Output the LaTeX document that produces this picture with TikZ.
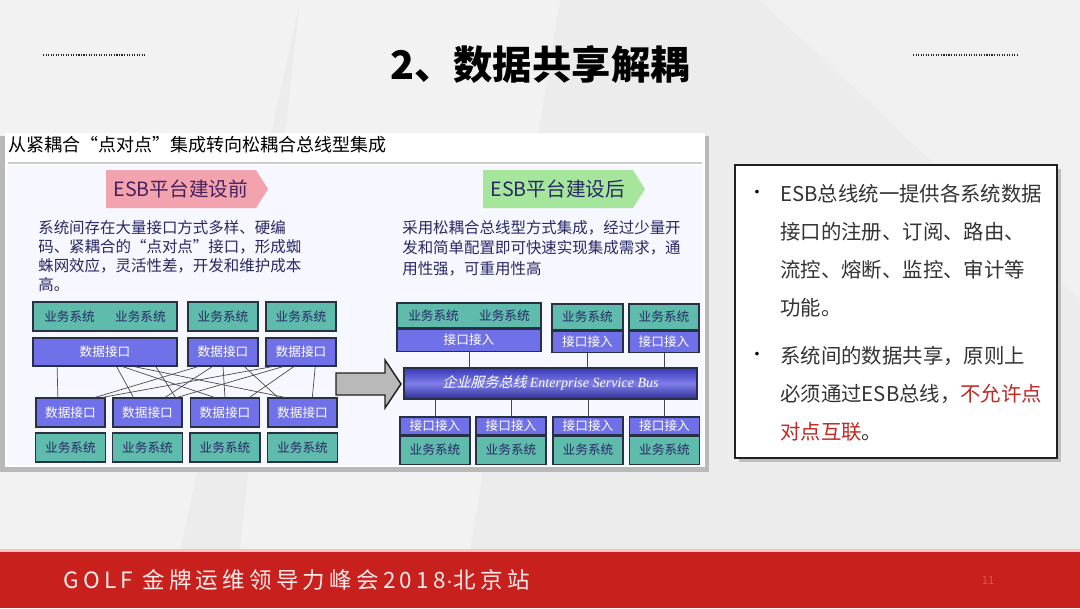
\documentclass[tikz,border=0pt]{standalone}
\usepackage{fontspec}
\usepackage{tikz}
\usetikzlibrary{calc}
\usetikzlibrary{positioning}
\usetikzlibrary{shapes.symbols}
\setmainfont{Noto Sans CJK SC}
\newfontfamily\cjk{Noto Sans CJK SC}
\newfontfamily\cjkslant[FakeSlant=0.25]{Noto Sans CJK SC}
\newfontfamily\footfont[LetterSpace=19]{Noto Sans CJK SC}
\newfontfamily\footdot{Liberation Sans}
\newfontfamily\busfont{Liberation Serif}
\newcommand{\pxl}{0.025cm}
\definecolor{bggray}{RGB}{236,236,236}
\definecolor{systeal}{RGB}{95,188,172}
\definecolor{ifblue}{RGB}{112,112,232}
\definecolor{busblue}{RGB}{56,56,184}
\definecolor{boxline}{RGB}{40,48,70}
\definecolor{navytext}{RGB}{40,40,100}
\definecolor{tagpink}{RGB}{243,163,173}
\definecolor{taggreen}{RGB}{166,230,156}
\definecolor{footred}{RGB}{200,32,28}
\definecolor{notered}{RGB}{192,40,36}
\tikzset{
	sysbox/.style={draw=boxline, fill=systeal, line width=0.8pt, inner sep=0pt,
		font=\cjk\fontsize{9}{11}\selectfont, text=navytext},
	ifbox/.style={draw=boxline, fill=ifblue, line width=0.8pt, inner sep=0pt,
		font=\cjk\fontsize{9}{11}\selectfont, text=white},
	meshline/.style={gray!60!black, line width=0.5pt},
	linkline/.style={gray!55!black, line width=0.7pt},
	tag/.style={signal, signal to=east, signal pointer angle=115, inner sep=0pt,
		minimum width=162*\pxl, minimum height=38*\pxl, font=\cjk\fontsize{14}{16}\selectfont},
	desc/.style={anchor=north west, align=left, inner sep=0pt, text=navytext},
	note/.style={anchor=north west, align=left, inner sep=0pt, text=black!80,
		font=\cjk\fontsize{14.5}{27}\selectfont},
}
\begin{document}
\begin{tikzpicture}[x=0.025cm,y=-0.025cm]
	\useasboundingbox (0,0) rectangle (1080,608);
	
	% background
	\fill[bggray] (0,0) rectangle (1080,608);
	\fill[white,opacity=0.35] (0,0) -- (300,0) -- (180,550) -- (0,550) -- cycle;
	\fill[white,opacity=0.35] (300,0) -- (560,0) -- (470,550) -- (240,550) -- cycle;
	\fill[white,opacity=0.25] (760,0) -- (1080,0) -- (1080,300) -- cycle;
	
	% title
	\node[font=\cjk\bfseries\fontsize{28}{32}\selectfont] (title) at (540,64) {2、数据共享解耦};
	\draw[densely dotted, gray!30!black, line width=0.8pt] (43,55) -- (145,55);
	\draw[densely dotted, gray!30!black, line width=0.8pt] (913,55) -- (1017,55);
	
	% left picture panel
	\fill[gray!55] (0,136) rectangle (709,472);
	\fill[white] (5,133) rectangle (705,467);
	\fill[blue!3] (7,165) rectangle (703,465);
	\draw[gray!40, line width=1.5pt] (8,163) -- (702,163);
	\node[anchor=west, inner sep=0pt, font=\cjk\fontsize{12.8}{14}\selectfont] (head) at (8,145) {从紧耦合“点对点”集成转向松耦合总线型集成};
	
	\node[tag, fill=tagpink, text=navytext!80!purple] (tagpre) at (181,189) {ESB平台建设前};
	\node[tag, fill=taggreen, text=navytext] (tagpost) at (558,189) {ESB平台建设后};
	
	\node[desc, font=\cjk\fontsize{11}{13.5}\selectfont] (descpre) at (38,220)
	{系统间存在大量接口方式多样、硬编\\码、紧耦合的“点对点”接口，形成蜘\\蛛网效应，灵活性差，开发和维护成本\\高。};
	\node[desc, font=\cjk\fontsize{11}{14.5}\selectfont] (descpost) at (402,220)
	{采用松耦合总线型方式集成，经过少量开\\发和简单配置即可快速实现集成需求，通\\用性强，可重用性高};
	
	% before: point to point
	\node[sysbox, minimum width=144*\pxl, minimum height=29*\pxl] (L1s) at (105,316.5) {业务系统\hspace{1.6em}业务系统};
	\node[sysbox, minimum width=70*\pxl, minimum height=29*\pxl] (L2s) at (223,316.5) {业务系统};
	\node[sysbox, minimum width=70*\pxl, minimum height=29*\pxl] (L3s) at (301,316.5) {业务系统};
	\node[ifbox, minimum width=144*\pxl, minimum height=28*\pxl] (L1i) at (105,352) {数据接口};
	\node[ifbox, minimum width=70*\pxl, minimum height=28*\pxl] (L2i) at (223,352) {数据接口};
	\node[ifbox, minimum width=70*\pxl, minimum height=28*\pxl] (L3i) at (301,352) {数据接口};
	
	\foreach \n/\x in {1/70.5,2/147.5,3/225,4/302.5}{
		\node[ifbox, minimum width=69*\pxl, minimum height=29*\pxl] (B\n i) at (\x,412.5) {数据接口};
		\node[sysbox, minimum width=70*\pxl, minimum height=29*\pxl] (B\n s) at (\x,447.5) {业务系统};
	}
	
	\foreach \a/\fa/\b/\fb in {L1i/.17/B1i/.32, L1i/.58/B2i/.3, L1i/.62/B3i/.35, L1i/.7/B4i/.25,
		L1i/.85/B2i/.9, L2i/.15/B1i/.85, L2i/.35/B2i/.75, L2i/.5/B3i/.5, L2i/.8/B4i/.15,
		L3i/.1/B1i/.95, L3i/.25/B2i/.92, L3i/.4/B3i/.85, L3i/.7/B4i/.64}{
		\draw[meshline] ($(\a.south west)!\fa!(\a.south east)$) -- ($(\b.north west)!\fb!(\b.north east)$);
	}
	
	% arrow
	\draw[fill=gray!55, draw=gray!25!black, line width=1pt]
	(336,373) -- (385,373) -- (385,360) -- (401,384) -- (385,408) -- (385,395) -- (336,395) -- cycle;
	
	% after: bus
	\node[sysbox, minimum width=144*\pxl, minimum height=25*\pxl] (RAs) at (469,315.5) {业务系统\hspace{1.6em}业务系统};
	\node[ifbox, minimum width=144*\pxl, minimum height=22*\pxl, below=0pt of RAs] (RAi) {接口接入};
	\node[sysbox, minimum width=71*\pxl, minimum height=26*\pxl] (RBs) at (587.5,317) {业务系统};
	\node[ifbox, minimum width=71*\pxl, minimum height=21*\pxl, below=0pt of RBs] (RBi) {接口接入};
	\node[sysbox, minimum width=70*\pxl, minimum height=26*\pxl] (RCs) at (664,317) {业务系统};
	\node[ifbox, minimum width=70*\pxl, minimum height=21*\pxl, below=0pt of RCs] (RCi) {接口接入};
	
	\node[draw=boxline, line width=1pt, top color=busblue, bottom color=busblue!80!black, middle color=ifblue!90!white,
	minimum width=293*\pxl, minimum height=31*\pxl, text=white, font=\fontsize{10}{12}\selectfont] (bus) at (550.5,383.5)
	{{\cjkslant 企业服务总线} {\busfont\itshape Enterprise Service Bus}};
	
	\foreach \n/\x in {1/435,2/511,3/588,4/664.5}{
		\node[ifbox, minimum width=70*\pxl, minimum height=18*\pxl] (R\n i) at (\x,426) {接口接入};
		\node[sysbox, minimum width=70*\pxl, minimum height=28*\pxl, below=0pt of R\n i] (R\n s) {业务系统};
		\draw[linkline] (bus.south -| R\n i) -- (R\n i.north);
	}
	\foreach \t in {RAi,RBi,RCi}{
		\draw[linkline] (\t.south) -- (\t.south |- bus.north);
	}
	
	% notes box
	\fill[gray!50] (739,169) rectangle (1061,462);
	\node[draw=gray!25!black, line width=2pt, fill=white, minimum width=322*\pxl, minimum height=293*\pxl] (notebox) at (896,311.5) {};
	\node[font=\cjk\fontsize{12}{14}\selectfont] (dot1) at (757,194) {•};
	\node[font=\cjk\fontsize{12}{14}\selectfont] (dot2) at (757,356) {•};
	\node[note] (para1) at (780,184) {ESB总线统一提供各系统数据\\接口的注册、订阅、路由、\\流控、熔断、监控、审计等\\功能。};
	\node[note] (para2) at (780,346) {系统间的数据共享，原则上\\必须通过ESB总线，\textcolor{notered}{不允许点}\\\textcolor{notered}{对点互联}。};
	
	% footer
	\fill[footred] (0,550) rectangle (1080,608);
	\fill[red!25!white] (0,549) rectangle (1080,551.5);
	\node[anchor=west, inner sep=0pt, text=white!92!red, font=\footfont\fontsize{16}{18}\selectfont] (foot) at (63,580)
	{GOLF 金牌运维领导力峰会2018{\footdot ·}北京站};
	\node[text=footred!75!white, font=\cjk\fontsize{8}{10}\selectfont] (pageno) at (988,580) {11};
\end{tikzpicture}
\end{document}
